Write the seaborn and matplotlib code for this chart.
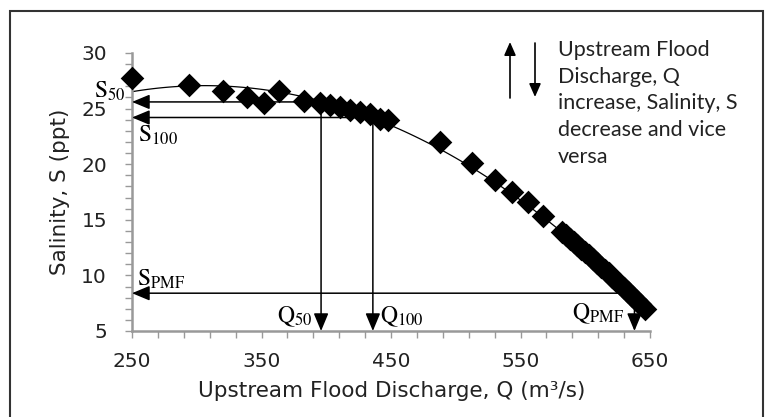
import matplotlib
matplotlib.use('Agg')
import matplotlib.pyplot as plt
import seaborn as sns
import numpy as np
import pandas as pd
from matplotlib.patches import Rectangle

# ---- data ----
discharge = [250, 294, 320, 339, 352, 363.5, 383, 395, 403, 410.5, 418, 426, 434,
             441.5, 447.5, 488, 512.5, 530, 543.5, 556, 567,
             582, 585, 588, 591, 594, 597, 600, 603, 606, 609, 612, 615, 618,
             621, 624, 627, 630, 633, 636, 639, 642, 646]
salinity = [27.75, 27.1, 26.6, 26.0, 25.5, 26.6, 25.7, 25.5, 25.3, 25.1, 24.9, 24.7, 24.5,
            24.1, 24.0, 22.0, 20.1, 18.6, 17.5, 16.6, 15.3,
            13.9, 13.6, 13.3, 13.0, 12.7, 12.4, 12.1, 11.8, 11.5, 11.15, 10.8, 10.5, 10.2,
            9.85, 9.5, 9.2, 8.85, 8.5, 8.15, 7.8, 7.45, 7.0]

return_labels = ['50', '100', 'PMF']
q_design = [396, 436, 638]
s_design = [25.6, 24.2, 8.4]

x_ticks = [250, 350, 450, 550, 650]
y_ticks = [5, 10, 15, 20, 25, 30]

note_text = "Upstream Flood\nDischarge, Q\nincrease, Salinity, S\ndecrease and vice\nversa"

# ---- style ----
sns.set_style('ticks')
plt.rcParams['font.family'] = ['DejaVu Sans']
plt.rcParams['mathtext.fontset'] = 'stix'

W, H = 766, 417
fig = plt.figure(figsize=(W / 100, H / 100), dpi=100)
ax = fig.add_axes([132 / W, 1 - 331 / H, (650 - 132) / W, (331 - 53) / H])
ax.set_xlim(250, 650)
ax.set_ylim(5, 30)

df = pd.DataFrame({'Q': discharge, 'S': salinity})
sns.regplot(data=df, x='Q', y='S', order=2, ci=None, scatter=False, truncate=False,
            line_kws=dict(color='black', lw=0.9, zorder=2), ax=ax)
sns.scatterplot(data=df, x='Q', y='S', marker='D', s=145, color='black',
                edgecolor='black', linewidth=0, zorder=4, clip_on=False, ax=ax)

arrow_kw = dict(arrowstyle='-|>,head_length=0.6,head_width=0.25', color='black',
                lw=1.1, shrinkA=0, shrinkB=0, mutation_scale=18)
for q, s in zip(q_design, s_design):
    ax.annotate('', xy=(250, s), xytext=(q, s), arrowprops=arrow_kw,
                annotation_clip=False, zorder=3)
    ax.annotate('', xy=(q, 5), xytext=(q, s), arrowprops=arrow_kw,
                annotation_clip=False, zorder=3)

# label positions (layout, in data coordinates)
s_label_pos = [(221.0, 25.95), (254.6, 22.0), (253.9, 9.05)]
q_label_pos = [(362.0, 5.8), (441.5, 5.8), (589.5, 6.1)]
for lab, (sx, sy), (qx, qy) in zip(return_labels, s_label_pos, q_label_pos):
    ax.text(sx, sy, r'$\mathrm{S}_{\mathrm{%s}}$' % lab, fontsize=17, ha='left',
            va='baseline', color='black', zorder=5, clip_on=False)
    ax.text(qx, qy, r'$\mathrm{Q}_{\mathrm{%s}}$' % lab, fontsize=17, ha='left',
            va='baseline', color='black', zorder=5, clip_on=False)

# axes styling
ax.set_xticks(x_ticks)
ax.set_xticks(np.arange(250, 651, 20), minor=True)
ax.set_yticks(y_ticks)
ax.set_yticks(np.arange(5, 31, 1), minor=True)
ax.tick_params(which='both', direction='out', length=5, width=1, color='#999999')
ax.tick_params(axis='x', which='major', labelsize=14.5, pad=10, labelcolor='#222222')
ax.tick_params(axis='y', which='major', labelsize=14.5, pad=13, labelcolor='#222222')
for side in ['top', 'right']:
    ax.spines[side].set_visible(False)
for side in ['left', 'bottom']:
    ax.spines[side].set_color('#999999')
    ax.spines[side].set_linewidth(1.8)

ax.set_xlabel('Upstream Flood Discharge, Q (m³/s)', fontsize=15.5, color='#222222')
ax.set_ylabel('Salinity, S (ppt)', fontsize=15.5, color='#222222')
ax.xaxis.set_label_coords(0.502, -0.18)
ax.yaxis.set_label_coords(-0.12, 0.5)

# side note with arrows
fig.text(558 / W, 1 - 40 / H, note_text, fontsize=15.5, family=['Lato', 'DejaVu Sans'],
         va='top', ha='left', linespacing=1.42, color='#222222')
small_arrow = dict(arrowstyle='-|>,head_length=0.5,head_width=0.22', color='black',
                   lw=1.2, shrinkA=0, shrinkB=0, mutation_scale=16)
ax.annotate('', xy=(510 / W, 1 - 42 / H), xytext=(510 / W, 1 - 98 / H),
            xycoords='figure fraction', textcoords='figure fraction', arrowprops=small_arrow)
ax.annotate('', xy=(535 / W, 1 - 97 / H), xytext=(535 / W, 1 - 43 / H),
            xycoords='figure fraction', textcoords='figure fraction', arrowprops=small_arrow)

# outer frame
fig.patches.append(Rectangle((10 / W, -0.05), (763 - 10) / W, 1.05 - 11 / H,
                             transform=fig.transFigure, fill=False, ec='#333333', lw=1.5))

fig.savefig('out.png', dpi=100)
